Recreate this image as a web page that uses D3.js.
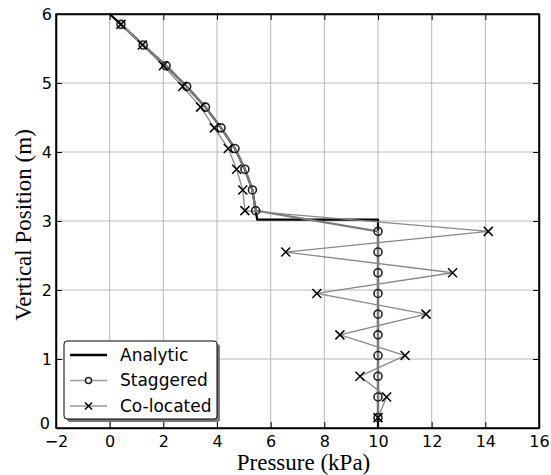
<!DOCTYPE html>
<html>
<head>
<meta charset="utf-8">
<script src="https://cdn.jsdelivr.net/npm/d3@7"></script>
<style>
  body { margin: 0; background: #fff; }
  .label { font-family: "Liberation Serif", "Times New Roman", serif; font-size: 23px; fill: #000; }
  .legend text { font-family: "DejaVu Sans", sans-serif; font-size: 17px; fill: #000; }
</style>
</head>
<body>
<div id="chart"></div>
<script>
// data
var upperY = [5.85, 5.55, 5.25, 4.95, 4.65, 4.35, 4.05, 3.75, 3.45, 3.15];
var lowerY = [2.85, 2.55, 2.25, 1.95, 1.65, 1.35, 1.05, 0.75, 0.45, 0.15];

var analyticP = [0, 0.42, 1.25, 2.10, 2.87, 3.57, 4.15, 4.67, 5.04, 5.32, 5.44, 5.50, 10, 10];
var analyticY = [6, 5.85, 5.55, 5.25, 4.95, 4.65, 4.35, 4.05, 3.75, 3.45, 3.15, 3.02, 3.02, 0];

var staggeredP = [0.42, 1.25, 2.10, 2.87, 3.57, 4.15, 4.67, 5.04, 5.32, 5.44,
                  10, 10, 10, 10, 10, 10, 10, 10, 10, 10];
var colocatedP = [0.42, 1.22, 2.00, 2.72, 3.39, 3.90, 4.42, 4.73, 4.96, 5.04,
                  14.11, 6.56, 12.78, 7.72, 11.79, 8.58, 11.01, 9.33, 10.32, 10.0];
var nodeY = upperY.concat(lowerY);

var xTicks = [-2, 0, 2, 4, 6, 8, 10, 12, 14, 16];
var yTicks = [0, 1, 2, 3, 4, 5, 6];
var legendNames = ["Analytic", "Staggered", "Co-located"];

var margins = { margin_left: 56, margin_right: 12, margin_top: 14, margin_bottom: 47, width: 483, height: 414 };

var x = d3.scaleLinear().domain([-2, 16]).range([0, margins.width]);
var y = d3.scaleLinear().domain([0, 6]).range([margins.height, 0]);

var svg = d3.select("#chart")
            .append("svg")
            .attr("width", 551)
            .attr("height", 475)
            .append("g")
              .attr("transform", "translate(" + margins.margin_left + "," + margins.margin_top + ")");

// grid
svg.append("g")
    .selectAll("line")
    .data(xTicks.slice(1, -1))
    .join("line")
      .attr("x1", d => x(d)).attr("x2", d => x(d))
      .attr("y1", 0).attr("y2", margins.height)
      .attr("stroke", "#b8b8b8").attr("stroke-width", 1);

svg.append("g")
    .selectAll("line")
    .data(yTicks.slice(1, -1))
    .join("line")
      .attr("y1", d => y(d)).attr("y2", d => y(d))
      .attr("x1", 0).attr("x2", margins.width)
      .attr("stroke", "#b8b8b8").attr("stroke-width", 1);

// lines
var line = d3.line().x(d => x(d[0])).y(d => y(d[1]));

svg.append("path")
    .datum(d3.zip(analyticP, analyticY))
    .attr("d", line)
    .attr("fill", "none").attr("stroke", "#000").attr("stroke-width", 2.2);

var stag = d3.zip(staggeredP, nodeY);
var colo = d3.zip(colocatedP, nodeY);

svg.append("path")
    .datum(stag)
    .attr("d", line)
    .attr("fill", "none").attr("stroke", "#7a7a7a").attr("stroke-width", 2.2);

svg.append("path")
    .datum(colo)
    .attr("d", line)
    .attr("fill", "none").attr("stroke", "#888").attr("stroke-width", 1.3);

// markers
svg.append("g")
    .selectAll("circle")
    .data(stag)
    .join("circle")
      .attr("cx", d => x(d[0])).attr("cy", d => y(d[1]))
      .attr("r", 4)
      .attr("fill", "none").attr("stroke", "#222").attr("stroke-width", 1.6);

var cross = function (g, s) {
    g.append("path")
      .attr("d", "M" + (-s) + "," + (-s) + "L" + s + "," + s + "M" + (-s) + "," + s + "L" + s + "," + (-s))
      .attr("stroke", "#000").attr("stroke-width", 1.5).attr("fill", "none");
};

svg.append("g")
    .selectAll("g")
    .data(colo)
    .join("g")
      .attr("transform", d => "translate(" + x(d[0]) + "," + y(d[1]) + ")")
      .each(function () { cross(d3.select(this), 4.5); });

// axes
var x_axis = d3.axisBottom(x).tickValues(xTicks).tickSize(-6).tickSizeOuter(0).tickPadding(8)
               .tickFormat(d => d < 0 ? "\u2212" + Math.abs(d) : d);
svg.append("g")
    .attr("class", "axis")
    .attr("transform", "translate(0," + margins.height + ")")
    .call(x_axis);

var top_axis = d3.axisTop(x).tickValues(xTicks).tickSize(-6).tickSizeOuter(0).tickFormat("");
svg.append("g").attr("class", "axis").call(top_axis);

var y_axis = d3.axisLeft(y).tickValues(yTicks).tickSize(-6).tickSizeOuter(0).tickPadding(4)
               .tickFormat(d3.format("d"));
var yg = svg.append("g").attr("class", "axis").call(y_axis);

// lowest y label sits a little higher and left, clear of the "-2"
yg.selectAll(".tick text")
    .filter(d => d === 0)
    .attr("dy", "0em")
    .attr("x", -6);

var right_axis = d3.axisRight(y).tickValues(yTicks).tickSize(-6).tickSizeOuter(0).tickFormat("");
svg.append("g")
    .attr("class", "axis")
    .attr("transform", "translate(" + margins.width + ",0)")
    .call(right_axis);

svg.selectAll(".axis")
    .attr("font-family", "DejaVu Sans, sans-serif")
    .attr("font-size", 16);
svg.selectAll(".domain").attr("stroke", "#000").attr("stroke-width", 1.5);
svg.selectAll(".tick line").attr("stroke", "#000");

// frame
svg.append("rect")
    .attr("width", margins.width).attr("height", margins.height)
    .attr("fill", "none").attr("stroke", "#000").attr("stroke-width", 1.5);

// axis labels
svg.append("text")
    .attr("class", "label")
    .attr("x", margins.width / 2 + 6)
    .attr("y", margins.height + 42)
    .attr("text-anchor", "middle")
    .text("Pressure (kPa)");

svg.append("text")
    .attr("class", "label")
    .attr("transform", "rotate(-90)")
    .attr("x", -margins.height / 2 - 4)
    .attr("y", -25)
    .attr("text-anchor", "middle")
    .text("Vertical Position (m)");

// legend
var lg = svg.append("g")
    .attr("class", "legend")
    .attr("transform", "translate(8,327)");

lg.append("rect")
    .attr("x", 3).attr("y", 3).attr("width", 153).attr("height", 78).attr("rx", 3)
    .attr("fill", "#777");
lg.append("rect")
    .attr("width", 153).attr("height", 78).attr("rx", 3)
    .attr("fill", "#fff").attr("stroke", "#000").attr("stroke-width", 1);

var rows = lg.selectAll("g.row")
    .data(legendNames)
    .join("g")
      .attr("class", "row")
      .attr("transform", (d, i) => "translate(0," + (14 + i * 25.5) + ")");

rows.append("line")
    .attr("x1", 6).attr("x2", 43)
    .attr("stroke", (d, i) => i === 0 ? "#000" : "#999")
    .attr("stroke-width", (d, i) => i === 0 ? 2.5 : 1.3);

rows.filter((d, i) => i === 1)
    .append("circle")
      .attr("cx", 24.5).attr("r", 3)
      .attr("fill", "#fff").attr("stroke", "#222").attr("stroke-width", 1.5);

rows.filter((d, i) => i === 2)
    .append("g")
      .attr("transform", "translate(24.5,0)")
      .each(function () { cross(d3.select(this), 3.5); });

rows.append("text")
    .attr("x", 56)
    .attr("dy", "0.35em")
    .text(d => d);
</script>
</body>
</html>
